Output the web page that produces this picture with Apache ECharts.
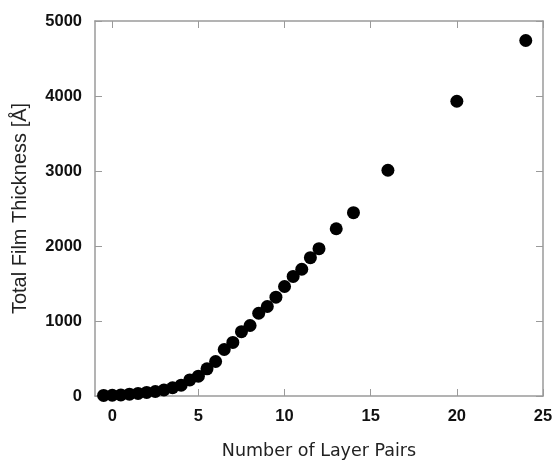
<!DOCTYPE html>
<html>
<head>
<meta charset="utf-8">
<script src="https://cdn.jsdelivr.net/npm/echarts@6/dist/echarts.min.js"></script>
<style>
  html, body { margin: 0; padding: 0; background: #fff; }
  #chart { width: 552px; height: 463px; }
</style>
</head>
<body>
<div id="chart"></div>
<script>
// layer pairs and measured total thickness (Å)
var layerPairs = [-0.5, 0, 0.5, 1, 1.5, 2, 2.5, 3, 3.5, 4, 4.5, 5, 5.5, 6, 6.5, 7, 7.5, 8, 8.5, 9, 9.5, 10, 10.5, 11, 11.5, 12, 13, 14, 16, 20, 24];
var thickness = [8, 10, 15, 25, 35, 48, 60, 80, 110, 145, 215, 265, 362, 460, 620, 715, 858, 940, 1103, 1193, 1318, 1460, 1595, 1690, 1845, 1965, 2230, 2445, 3010, 3930, 4740];

var xTicks = [0, 5, 10, 15, 20, 25];

var points = [];
for (var i = 0; i < layerPairs.length; i++) {
    points.push([layerPairs[i], thickness[i]]);
}

var frameColor = '#9a9a9a';
var labelStyle = {
    color: '#111',
    fontFamily: 'Liberation Sans, Arial, sans-serif',
    fontWeight: 'bold',
    fontSize: 16.5,
    formatter: function (v) { return String(v); }
};

function frameLine() {
    return { show: true, onZero: false, lineStyle: { color: frameColor, width: 1.5 } };
}

function ticks(custom) {
    var t = {
        show: true,
        inside: true,
        length: 7,
        lineStyle: { color: frameColor }
    };
    if (custom) t.customValues = custom;
    return t;
}

var chart = echarts.init(document.getElementById('chart'));
chart.setOption({
    animation: false,
    backgroundColor: '#fff',
    grid: {
        left: 95,
        right: 9,
        top: 21,
        bottom: 67,
        containLabel: false,
        outerBoundsMode: 'none'
    },
    xAxis: [
        {
            type: 'value',
            min: -1,
            max: 25,
            name: 'Number of Layer Pairs',
            nameLocation: 'middle',
            nameGap: 46,
            nameTextStyle: {
                color: '#222',
                fontFamily: 'DejaVu Sans, Verdana, sans-serif',
                fontSize: 17.5
            },
            axisLine: frameLine(),
            axisTick: ticks(xTicks),
            axisLabel: Object.assign({ margin: 12, customValues: xTicks }, labelStyle),
            splitLine: { show: false }
        },
        {
            type: 'value',
            position: 'top',
            min: -1,
            max: 25,
            axisLine: frameLine(),
            axisTick: ticks(xTicks),
            axisLabel: { show: false },
            splitLine: { show: false }
        }
    ],
    yAxis: [
        {
            type: 'value',
            min: 0,
            max: 5000,
            interval: 1000,
            name: 'Total Film Thickness [Å]',
            nameLocation: 'middle',
            nameGap: 65,
            nameTextStyle: {
                color: '#222',
                fontFamily: 'Liberation Sans, Arial, sans-serif',
                fontSize: 20
            },
            axisLine: frameLine(),
            axisTick: ticks(),
            axisLabel: Object.assign({ margin: 13 }, labelStyle),
            splitLine: { show: false }
        },
        {
            type: 'value',
            position: 'right',
            min: 0,
            max: 5000,
            interval: 1000,
            axisLine: frameLine(),
            axisTick: ticks(),
            axisLabel: { show: false },
            splitLine: { show: false }
        }
    ],
    series: [
        {
            type: 'scatter',
            data: points,
            symbol: 'circle',
            symbolSize: 13,
            itemStyle: { color: '#000', opacity: 1 }
        }
    ]
});
</script>
</body>
</html>
